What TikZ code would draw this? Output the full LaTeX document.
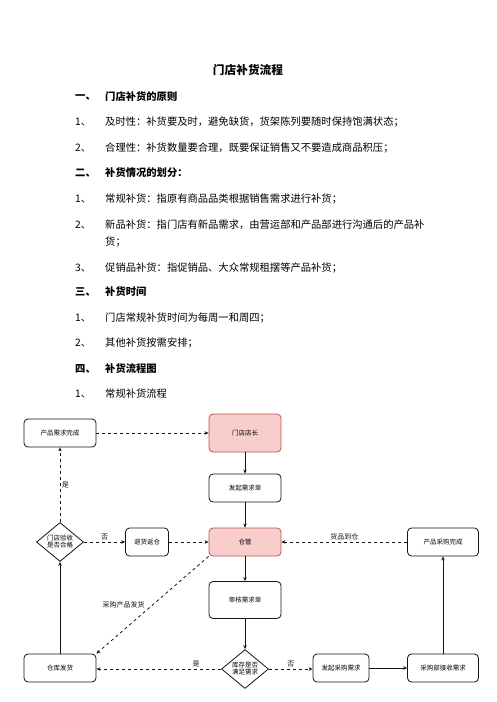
\documentclass[tikz,border=0pt]{standalone}
\usepackage{fontspec}
\setmainfont{Noto Sans CJK SC}
\usepackage{tikz}
\usetikzlibrary{shapes.geometric, arrows.meta, positioning}
\definecolor{mydark}{RGB}{20,20,20}
\definecolor{pinkfill}{RGB}{248,206,204}
\definecolor{pinkdraw}{RGB}{184,84,80}
\tikzset{
  procbox/.style={rectangle, draw=mydark, fill=white,
    minimum width=72pt, minimum height=28pt, inner sep=1pt,
    font=\fontsize{6.5}{7.5}\selectfont, rounded corners=4pt, line width=0.8pt},
  pinkbox/.style={procbox, draw=pinkdraw, fill=pinkfill},
  decide/.style={diamond, draw=mydark, fill=white, align=center,
    minimum width=47pt, minimum height=37pt, inner sep=0pt,
    font=\fontsize{6.5}{7}\selectfont, line width=0.8pt},
  arrow/.style={-{Stealth[length=4pt,width=3.5pt]}, line width=0.8pt, color=mydark},
  dasharrow/.style={arrow, dash pattern=on 3pt off 3pt},
  edgelabel/.style={font=\fontsize{7}{8}\selectfont, inner sep=1.5pt},
  bodytext/.style={anchor=west, inner sep=0pt, font=\fontsize{10.3}{12}\selectfont},
  headtext/.style={bodytext, font=\fontsize{10.3}{12}\selectfont\bfseries}
}
\begin{document}
\begin{tikzpicture}[x=1pt, y=-1pt]
  \useasboundingbox (0,0) rectangle (496,702);
  % Title and text
  \node[font=\fontsize{11.7}{13}\selectfont\bfseries, inner sep=0pt] (title) at (248,70) {门店补货流程};
  \node[headtext] (n1) at (75,97) {一、};
  \node[headtext] (h1) at (105,97) {门店补货的原则};
  \node[bodytext] (n2) at (75,122) {1、};
  \node[bodytext] (t2) at (105,122) {及时性：补货要及时，避免缺货，货架陈列要随时保持饱满状态；};
  \node[bodytext] (n3) at (75,148) {2、};
  \node[bodytext] (t3) at (105,148) {合理性：补货数量要合理，既要保证销售又不要造成商品积压；};
  \node[headtext] (n4) at (75,173) {二、};
  \node[headtext] (h2) at (105,173) {补货情况的划分：};
  \node[bodytext] (n5) at (75,199) {1、};
  \node[bodytext] (t5) at (105,199) {常规补货：指原有商品品类根据销售需求进行补货；};
  \node[bodytext] (n6) at (75,225) {2、};
  \node[bodytext] (t6) at (105,225) {新品补货：指门店有新品需求，由营运部和产品部进行沟通后的产品补};
  \node[bodytext] (t6b) at (105,242) {货；};
  \node[bodytext] (n7) at (75,268) {3、};
  \node[bodytext] (t7) at (105,268) {促销品补货：指促销品、大众常规租摆等产品补货；};
  \node[headtext] (n8) at (75,292) {三、};
  \node[headtext] (h3) at (105,292) {补货时间};
  \node[bodytext] (n9) at (75,318) {1、};
  \node[bodytext] (t9) at (105,318) {门店常规补货时间为每周一和周四；};
  \node[bodytext] (n10) at (75,343) {2、};
  \node[bodytext] (t10) at (105,343) {其他补货按需安排；};
  \node[headtext] (n11) at (75,369) {四、};
  \node[headtext] (h4) at (105,369) {补货流程图};
  \node[bodytext] (n12) at (75,394) {1、};
  \node[bodytext] (t12) at (105,394) {常规补货流程};
  % Flow chart nodes
  \node[procbox] (demand) at (60,433) {产品需求完成};
  \node[pinkbox, minimum height=38pt] (manager) at (245,433) {门店店长};
  \node[procbox] (order) at (245,488) {发起需求单};
  \node[pinkbox] (keeper) at (245,542) {仓管};
  \node[procbox, minimum height=37pt] (review) at (245,600) {审核需求单};
  \node[decide, minimum height=36pt] (stock) at (245,669) {库存是否\\满足需求};
  \node[procbox, minimum width=56pt] (purchase) at (341,668) {发起采购需求};
  \node[procbox, minimum width=71pt] (receive) at (443,668) {采购部接收需求};
  \node[procbox, minimum width=71pt] (done) at (443,542) {产品采购完成};
  \node[procbox, minimum width=43pt] (return) at (147,542) {退货返仓};
  \node[decide] (check) at (60,542) {门店验收\\是否合格};
  \node[procbox] (ship) at (60,668) {仓库发货};
  % Connectors
  \draw[dasharrow] (demand) -- (manager);
  \draw[arrow] (manager) -- (order);
  \draw[arrow] (order) -- (keeper);
  \draw[arrow] (keeper) -- (review);
  \draw[arrow] (review) -- (stock);
  \draw[dasharrow] (stock.west) -- node[edgelabel, pos=0.2, above] {是} (ship.east |- stock.west);
  \draw[dasharrow] (stock.east) -- node[edgelabel, midway, above] {否} (purchase.west |- stock.east);
  \draw[arrow] (purchase) -- (receive);
  \draw[arrow] (receive) -- (done);
  \draw[dasharrow] (done) -- node[edgelabel, midway, above] {货品到仓} (keeper);
  \draw[dasharrow] (keeper.south west) -- node[edgelabel, midway, left=6pt] {采购产品发货} (ship.north east);
  \draw[arrow] (ship) -- (check);
  \draw[dasharrow] (check) -- node[edgelabel, midway, right] {是} (demand);
  \draw[dasharrow] (check) -- node[edgelabel, midway, above] {否} (return);
  \draw[dasharrow] (return) -- (keeper);
\end{tikzpicture}
\end{document}
